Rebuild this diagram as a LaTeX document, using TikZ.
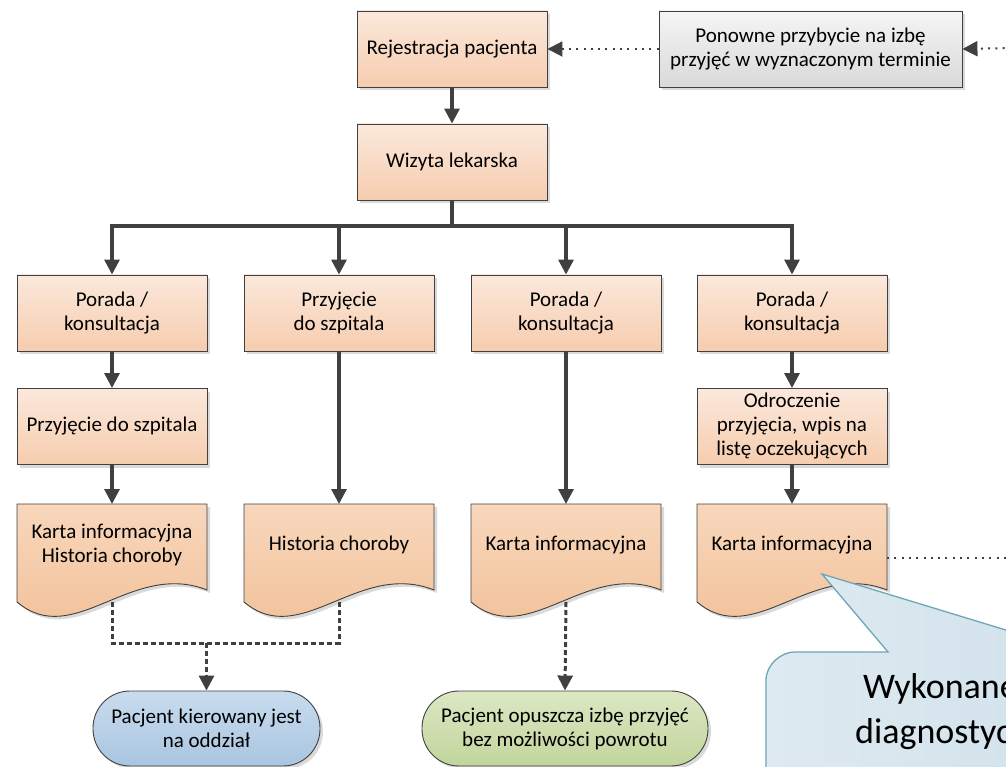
\documentclass[tikz,border=0pt]{standalone}
\usepackage{fontspec}
\setmainfont{Carlito}
\usetikzlibrary{arrows.meta,shadows}

\definecolor{lineC}{HTML}{404040}
\definecolor{boxTop}{HTML}{FBE8DC}
\definecolor{boxBot}{HTML}{F6CDAE}
\definecolor{docTop}{HTML}{F8D7BC}
\definecolor{docBot}{HTML}{F1BE94}
\definecolor{grayTop}{HTML}{F5F5F5}
\definecolor{grayBot}{HTML}{D9D9D9}
\definecolor{blueTop}{HTML}{C9DCEE}
\definecolor{blueBot}{HTML}{A9C5E1}
\definecolor{greenTop}{HTML}{DCE7C4}
\definecolor{greenBot}{HTML}{C2D59C}
\definecolor{callL}{HTML}{DEEAF1}
\definecolor{callR}{HTML}{CADDE8}
\definecolor{callE}{HTML}{6FA6B7}
\definecolor{shadowC}{HTML}{DADADA}

\begin{document}
\begin{tikzpicture}[x=1pt,y=-1pt,
  font=\fontsize{21}{24}\selectfont,
  shade box/.style={draw=lineC, line width=0.9pt, align=center, inner sep=2pt,
    drop shadow={shadow xshift=3pt, shadow yshift=-3pt, fill=shadowC, opacity=1}},
  box/.style={shade box, top color=boxTop, bottom color=boxBot,
    minimum width=190pt, minimum height=76pt},
  graybox/.style={shade box, top color=grayTop, bottom color=grayBot,
    minimum width=303pt, minimum height=76pt},
  terminal/.style={shade box, rounded corners=37pt, minimum height=75pt},
  conn/.style={draw=lineC, line width=3.2pt},
  tip/.style={-{Triangle[length=15pt,width=15pt]}},
  dashconn/.style={draw=lineC, line width=3pt, dash pattern=on 5pt off 3pt},
  dotconn/.style={draw=lineC, line width=2pt, dash pattern=on 2pt off 5.3pt},
  docu/.pic={
    \path[fill=shadowC] (-92,3) -- (98,3) -- (98,89)
      .. controls (22,59) and (-35,149) .. (-92,101) -- cycle;
    \path[draw=lineC, line width=0.9pt, top color=docTop, bottom color=docBot]
      (-95,0) -- (95,0) -- (95,86)
      .. controls (19,56) and (-38,146) .. (-95,98) -- cycle;
    \coordinate (-top) at (0,0);
    \coordinate (-bot) at (0,98);
    \coordinate (-east) at (95,54);
    \node[align=center] (-txt) at (0,41) {#1};
  }]

\useasboundingbox (0,0) rectangle (1006,767);
\clip (0,0) rectangle (1006,767);

% top row
\node[box] (reg) at (452,49) {Rejestracja pacjenta};
\node[box] (wiz) at (452,162) {Wizyta lekarska};
\node[graybox] (pon) at (810.5,49) {Ponowne przybycie na izbę\\przyjęć w wyznaczonym terminie};

% four branches
\node[box] (a1) at (112,313) {Porada /\\konsultacja};
\node[box] (a2) at (339,313) {Przyjęcie\\do szpitala};
\node[box] (a3) at (566,313) {Porada /\\konsultacja};
\node[box] (a4) at (792,313) {Porada /\\konsultacja};

\node[box] (b1) at (112,426.5) {Przyjęcie do szpitala};
\node[box] (b4) at (792,426.5) {Odroczenie\\przyjęcia, wpis na\\listę oczekujących};

% documents
\pic (d1) at (112,504) {docu={Karta informacyjna\\Historia choroby}};
\pic (d2) at (339,504) {docu={Historia choroby}};
\pic (d3) at (566,504) {docu={Karta informacyjna}};
\pic (d4) at (792,504) {docu={Karta informacyjna}};

% end states
\node[terminal, top color=blueTop, bottom color=blueBot, minimum width=227pt]
  (t1) at (206.5,728.5) {Pacjent kierowany jest\\na oddział};
\node[terminal, top color=greenTop, bottom color=greenBot, minimum width=286pt]
  (t2) at (565,728.5) {Pacjent opuszcza izbę przyjęć\\bez możliwości powrotu};

% connectors
\coordinate (bus) at (452,226);
\coordinate (join) at (206.5,643);
\coordinate (offA) at (1012,48);
\coordinate (offB) at (1012,558);

\draw[conn, tip] (reg) -- (wiz);
\draw[conn] (wiz.south) -- (bus);
\foreach \n in {a1,a2,a3,a4} \draw[conn, tip] (bus) -| (\n.north);
\draw[conn, tip] (a1) -- (b1);
\draw[conn, tip] (b1) -- (d1-top);
\draw[conn, tip] (a2) -- (d2-top);
\draw[conn, tip] (a3) -- (d3-top);
\draw[conn, tip] (a4) -- (b4);
\draw[conn, tip] (b4) -- (d4-top);

\draw[dashconn] (d1-bot) |- (join) -| (d2-bot);
\draw[dashconn, tip] (join) -- (t1.north);
\draw[dashconn, tip] (d3-bot) -- (t2.north);

\draw[dotconn, tip] (pon.west) -- (reg.east);
\draw[dotconn, tip] (offA) -- (pon.east);
\draw[dotconn] (d4-east) -- (offB);

% callout
\path[draw=callE, line width=1.3pt, left color=callL, right color=callR]
  (766,950) -- (766,680) .. controls (766,664.5) and (781.5,652) .. (794,652)
  -- (888,652) -- (822,574) -- (1078,652) -- (1250,652) -- (1250,950) -- cycle;
\node[anchor=base west, inner sep=0, font=\fontsize{36}{42}\selectfont]
  (cw1) at (863,698) {Wykonane};
\node[anchor=base west, inner sep=0, font=\fontsize{36}{42}\selectfont]
  (cw2) at (855,743) {diagnostyc};
\end{tikzpicture}
\end{document}
